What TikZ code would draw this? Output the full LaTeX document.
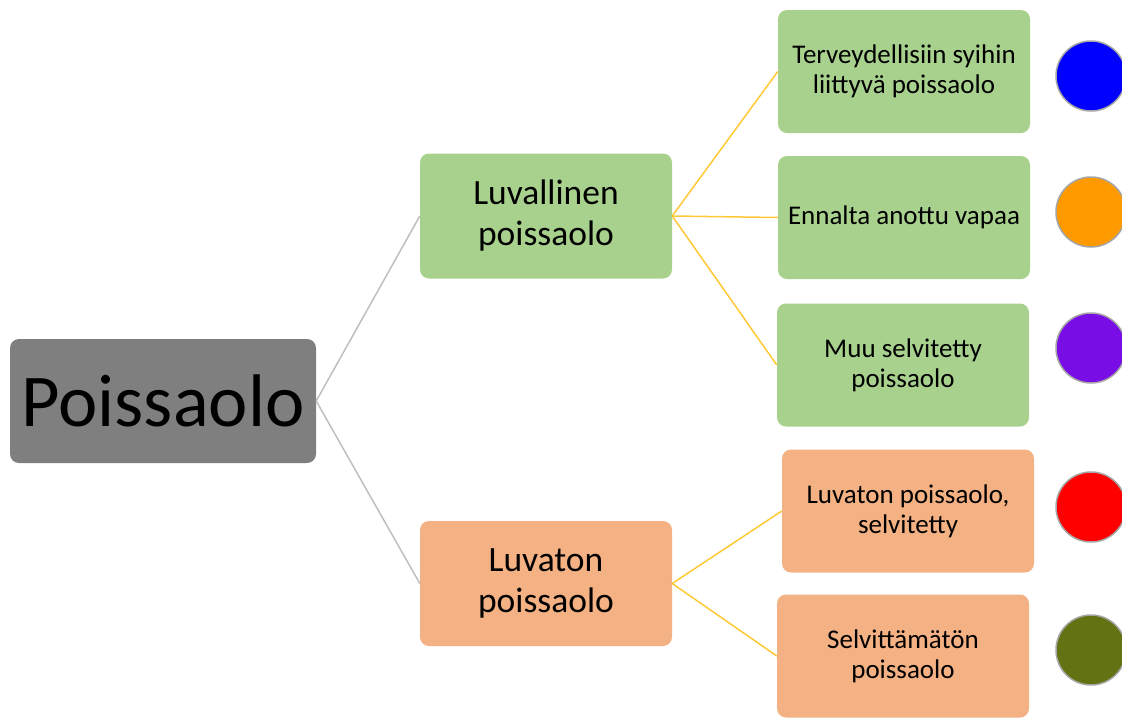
\documentclass[tikz,border=0pt]{standalone}
\usepackage{fontspec}
\setmainfont{Carlito}
\usetikzlibrary{positioning}

\definecolor{rootgray}{HTML}{7F7F7F}
\definecolor{okgreen}{HTML}{A9D18E}
\definecolor{notorange}{HTML}{F4B183}
\definecolor{linkgold}{HTML}{FFC936}
\definecolor{linkgray}{HTML}{BFBFBF}
\definecolor{dotblue}{HTML}{0000FF}
\definecolor{dotorange}{HTML}{FF9900}
\definecolor{dotpurple}{HTML}{780DE6}
\definecolor{dotred}{HTML}{FF0000}
\definecolor{dotolive}{HTML}{637314}

\begin{document}
\begin{tikzpicture}[x=1pt,y=-1pt,
	box/.style={rounded corners=9pt, align=center, inner sep=0pt, text=black},
	rootbox/.style={box, fill=rootgray, minimum width=306pt, minimum height=124pt,
		font=\fontsize{74.5}{80}\selectfont},
	midbox/.style={box, minimum width=252pt, minimum height=125pt,
		font=\fontsize{35.5}{41}\selectfont},
	leafbox/.style={box, minimum width=252pt, minimum height=123pt,
		font=\fontsize{27}{30}\selectfont},
	dot/.style={circle, draw=black!35, line width=1.5pt, minimum size=70pt, inner sep=0pt},
	graylink/.style={draw=linkgray, line width=1.5pt},
	goldlink/.style={draw=linkgold, line width=1.5pt}]
\useasboundingbox (0,0) rectangle (1122,718);

% main levels
\node[rootbox] (root) at (163,401) {Poissaolo};
\node[midbox, fill=okgreen] (ok) at (546,216) {Luvallinen\\poissaolo};
\node[midbox, fill=notorange] (notok) at (546,583.5) {Luvaton\\poissaolo};

% leaves
\node[leafbox, fill=okgreen] (health) at (904,71.5) {Terveydellisiin syihin\\liittyvä poissaolo};
\node[leafbox, fill=okgreen] (leave) at (904,217.5) {Ennalta anottu vapaa};
\node[leafbox, fill=okgreen] (other) at (903,365) {Muu selvitetty\\poissaolo};
\node[leafbox, fill=notorange] (explained) at (908,511) {Luvaton poissaolo,\\selvitetty};
\node[leafbox, fill=notorange] (unknown) at (903,656) {Selvittämätön\\poissaolo};

% colour dots
\node[dot, fill=dotblue] (c1) at (1091,76) {};
\node[dot, fill=dotorange] (c2) at (1091,212) {};
\node[dot, fill=dotpurple] (c3) at (1091,348) {};
\node[dot, fill=dotred] (c4) at (1091,507) {};
\node[dot, fill=dotolive] (c5) at (1091,650) {};

% links
\draw[graylink] (root.east) -- (ok.west);
\draw[graylink] (root.east) -- (notok.west);
\foreach \leaf in {health,leave,other}
	\draw[goldlink] (ok.east) -- (\leaf.west);
\foreach \leaf in {explained,unknown}
	\draw[goldlink] (notok.east) -- (\leaf.west);
\end{tikzpicture}
\end{document}
